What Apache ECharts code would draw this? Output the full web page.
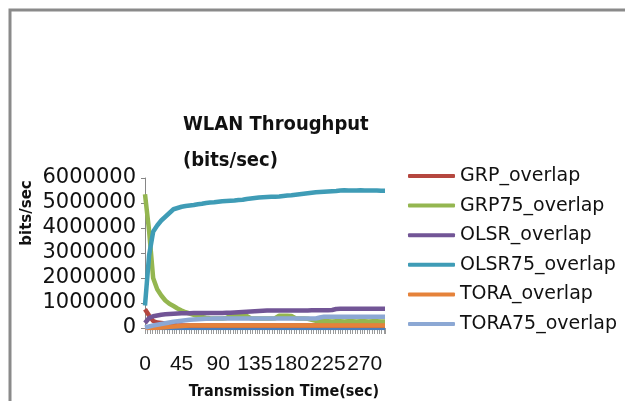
<!DOCTYPE html>
<html>
<head>
<meta charset="utf-8">
<title>WLAN Throughput</title>
<script src="https://cdn.jsdelivr.net/npm/echarts@6/dist/echarts.min.js"></script>
<style>
  html, body { margin: 0; padding: 0; background: #fff; }
  #chart { width: 625px; height: 401px; }
</style>
</head>
<body>
<div id="chart"></div>
<script>
// time in seconds (sampled every 5 s)
const times = [0, 5, 10, 15, 20, 25, 30, 35, 40, 45, 50, 55, 60, 65, 70, 75, 80, 85, 90, 95,
  100, 105, 110, 115, 120, 125, 130, 135, 140, 145, 150, 155, 160, 165, 170, 175, 180, 185, 190, 195,
  200, 205, 210, 215, 220, 225, 230, 235, 240, 245, 250, 255, 260, 265, 270, 275, 280, 285, 290, 295]

const xTickLabels = [0, 45, 90, 135, 180, 225, 270]
const yTickLabels = [0, 1000000, 2000000, 3000000, 4000000, 5000000, 6000000]

const seriesNames = ['GRP_overlap', 'GRP75_overlap', 'OLSR_overlap', 'OLSR75_overlap', 'TORA_overlap', 'TORA75_overlap']

// hidden first series sitting on zero
const series1 = [0, 0, 0, 0, 0, 0, 0, 0, 0, 0, 0, 0, 0, 0, 0, 0, 0, 0, 0, 0,
  0, 0, 0, 0, 0, 0, 0, 0, 0, 0, 0, 0, 0, 0, 0, 0, 0, 0, 0, 0,
  0, 0, 0, 0, 0, 0, 0, 0, 0, 0, 0, 0, 0, 0, 0, 0, 0, 0, 0, 0]

const grpOverlap = [750000, 500000, 280000, 220000, 200000, 180000, 150000, 120000, 100000, 100000,
  100000, 100000, 100000, 100000, 100000, 100000, 100000, 100000, 100000, 100000,
  100000, 100000, 100000, 100000, 100000, 100000, 100000, 100000, 100000, 100000,
  100000, 100000, 100000, 100000, 100000, 100000, 100000, 100000, 100000, 100000,
  100000, 100000, 100000, 100000, 100000, 100000, 100000, 100000, 100000, 100000,
  100000, 100000, 100000, 100000, 100000, 100000, 100000, 100000, 100000, 100000]

const grp75Overlap = [5350000, 3900000, 2000000, 1550000, 1300000, 1100000, 970000, 880000, 780000, 700000,
  630000, 580000, 530000, 480000, 440000, 410000, 390000, 380000, 380000, 380000,
  400000, 490000, 500000, 500000, 490000, 480000, 390000, 380000, 380000, 380000,
  380000, 380000, 390000, 490000, 490000, 490000, 480000, 390000, 380000, 380000,
  370000, 330000, 290000, 270000, 270000, 270000, 260000, 270000, 270000, 260000,
  270000, 270000, 260000, 270000, 270000, 260000, 270000, 270000, 260000, 260000]

const olsrOverlap = [200000, 400000, 470000, 500000, 530000, 550000, 560000, 570000, 580000, 590000,
  590000, 590000, 600000, 600000, 600000, 600000, 600000, 600000, 600000, 600000,
  610000, 610000, 620000, 630000, 640000, 650000, 660000, 670000, 680000, 690000,
  700000, 700000, 700000, 700000, 700000, 700000, 700000, 700000, 700000, 700000,
  700000, 710000, 710000, 710000, 710000, 710000, 720000, 760000, 770000, 770000,
  770000, 770000, 770000, 770000, 770000, 770000, 770000, 770000, 770000, 770000]

const olsr75Overlap = [900000, 2900000, 3850000, 4100000, 4300000, 4450000, 4600000, 4750000, 4800000, 4850000,
  4880000, 4900000, 4920000, 4950000, 4970000, 5000000, 5020000, 5030000, 5050000, 5070000,
  5080000, 5090000, 5100000, 5120000, 5130000, 5160000, 5180000, 5200000, 5220000, 5230000,
  5240000, 5250000, 5250000, 5260000, 5280000, 5300000, 5310000, 5330000, 5350000, 5370000,
  5390000, 5410000, 5430000, 5440000, 5450000, 5460000, 5470000, 5480000, 5500000, 5510000,
  5500000, 5500000, 5500000, 5510000, 5500000, 5500000, 5500000, 5500000, 5490000, 5490000]

const toraOverlap = [0, 0, 0, 10000, 20000, 30000, 50000, 60000, 70000, 80000,
  90000, 100000, 100000, 100000, 100000, 100000, 100000, 100000, 100000, 100000,
  100000, 100000, 100000, 100000, 100000, 100000, 100000, 100000, 100000, 100000,
  100000, 100000, 100000, 100000, 100000, 100000, 100000, 100000, 100000, 100000,
  100000, 100000, 100000, 100000, 100000, 100000, 100000, 100000, 100000, 100000,
  100000, 100000, 100000, 100000, 100000, 100000, 100000, 100000, 100000, 100000]

const tora75Overlap = [20000, 60000, 100000, 130000, 160000, 190000, 220000, 250000, 270000, 290000,
  310000, 330000, 340000, 350000, 360000, 370000, 370000, 380000, 380000, 380000,
  380000, 380000, 380000, 380000, 380000, 380000, 380000, 380000, 380000, 380000,
  380000, 380000, 380000, 380000, 380000, 380000, 380000, 380000, 380000, 380000,
  380000, 380000, 380000, 420000, 450000, 450000, 450000, 450000, 450000, 450000,
  450000, 450000, 450000, 450000, 450000, 450000, 450000, 450000, 450000, 450000]

const boldFont = '"DejaVu Sans Condensed", "DejaVu Sans", sans-serif'

const chart = echarts.init(document.getElementById('chart'))

const pairs = (vals) => times.map((t, i) => [t, vals[i]])

const mkLine = (name, vals, color) => ({
  name: name,
  type: 'line',
  data: pairs(vals),
  symbol: 'none',
  animation: false,
  lineStyle: { color: color, width: 4.5 },
  itemStyle: { color: color },
})

const option = {
  backgroundColor: '#fff',
  animation: false,
  title: {
    text: 'WLAN Throughput\n(bits/sec)',
    left: 183,
    top: 107,
    padding: 0,
    textStyle: {
      fontFamily: boldFont,
      fontWeight: 'bold',
      fontSize: 20,
      lineHeight: 36,
      color: '#111',
    },
  },
  legend: {
    orient: 'vertical',
    left: 408,
    top: 166,
    padding: 0,
    icon: 'roundRect',
    itemWidth: 47,
    itemHeight: 4,
    itemGap: 9.6,
    data: seriesNames,
    textStyle: {
      fontFamily: 'DejaVu Sans',
      fontSize: 19,
      lineHeight: 20,
      color: '#111',
    },
  },
  grid: {
    left: 145,
    top: 178,
    width: 240,
    height: 150,
  },
  xAxis: {
    type: 'value',
    min: 0,
    max: 295,
    interval: 45,
    name: 'Transmission Time(sec)',
    nameLocation: 'middle',
    nameGap: 56,
    nameTextStyle: {
      fontFamily: boldFont,
      fontWeight: 'bold',
      fontSize: 16,
      color: '#111',
      padding: [0, 0, 0, 38],
    },
    axisLine: { show: true, lineStyle: { color: '#868686', width: 1 } },
    axisTick: { show: true, length: 6, lineStyle: { color: '#9a9a9a' } },
    minorTick: { show: true, splitNumber: 15, length: 6, lineStyle: { color: '#9a9a9a' } },
    splitLine: { show: false },
    axisLabel: {
      margin: 26,
      showMaxLabel: false,
      fontFamily: 'Liberation Sans',
      fontSize: 21,
      color: '#111',
      formatter: (v) => (xTickLabels.indexOf(v) >= 0 ? String(v) : ''),
    },
  },
  yAxis: {
    type: 'value',
    min: yTickLabels[0],
    max: yTickLabels[yTickLabels.length - 1],
    interval: 1000000,
    name: 'bits/sec',
    nameLocation: 'middle',
    nameGap: 110,
    nameTextStyle: {
      fontFamily: 'DejaVu Sans',
      fontWeight: 'bold',
      fontSize: 15,
      color: '#111',
      padding: [0, 0, 0, 80],
    },
    axisLine: { show: true, lineStyle: { color: '#868686', width: 1 } },
    axisTick: { show: true, length: 4, lineStyle: { color: '#868686' } },
    splitLine: { show: false },
    axisLabel: {
      margin: 9,
      fontFamily: 'DejaVu Sans',
      fontSize: 21,
      color: '#111',
      formatter: (v) => String(v),
    },
  },
  graphic: [
    {
      type: 'rect',
      silent: true,
      shape: { x: 10, y: 10, width: 700, height: 500 },
      style: { fill: 'none', stroke: '#8a8a8a', lineWidth: 3 },
    },
  ],
  series: [
    mkLine('Series1', series1, '#4a7ebb'),
    mkLine(seriesNames[0], grpOverlap, '#b5473f'),
    mkLine(seriesNames[1], grp75Overlap, '#94b650'),
    mkLine(seriesNames[2], olsrOverlap, '#725596'),
    mkLine(seriesNames[3], olsr75Overlap, '#3f9cb6'),
    mkLine(seriesNames[4], toraOverlap, '#e5823a'),
    mkLine(seriesNames[5], tora75Overlap, '#8ca8d4'),
  ],
}

chart.setOption(option)
</script>
</body>
</html>
